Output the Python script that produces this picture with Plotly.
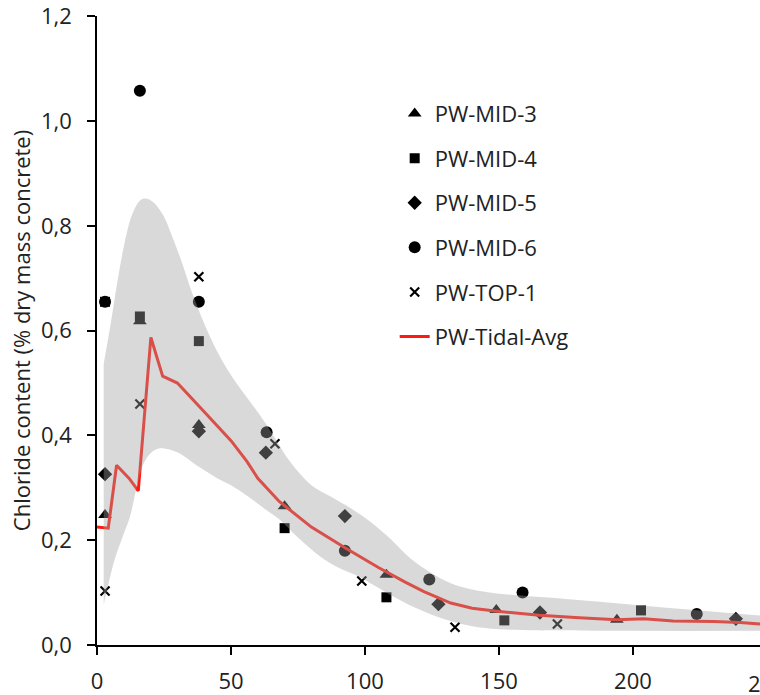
import plotly.graph_objects as go

# ---- data (depth in mm, chloride % dry mass concrete) ----
mid3_x = [3, 16, 38, 70, 108, 149, 194]
mid3_y = [0.248, 0.618, 0.42, 0.265, 0.134, 0.067, 0.048]

mid4_x = [3, 16, 38, 70, 108, 152, 203]
mid4_y = [0.655, 0.627, 0.58, 0.223, 0.091, 0.047, 0.066]

mid5_x = [3, 38, 63, 92.5, 127.4, 165.3, 238.4]
mid5_y = [0.326, 0.408, 0.367, 0.246, 0.078, 0.062, 0.05]

mid6_x = [3, 16, 38, 63.3, 92.5, 124, 158.8, 223.8]
mid6_y = [0.655, 1.058, 0.655, 0.406, 0.18, 0.125, 0.1, 0.059]

top1_x = [3, 16, 38, 66.4, 98.8, 133.6, 171.8]
top1_y = [0.103, 0.46, 0.703, 0.384, 0.122, 0.034, 0.04]

avg_x = [0, 4.2, 7.3, 12, 15.4, 20.1, 24.5, 30, 40, 50, 56, 60, 68, 80, 93, 105,
         115, 122, 132, 140, 150, 165, 180, 194, 204, 215, 230, 240, 250]
avg_y = [0.225, 0.223, 0.343, 0.318, 0.294, 0.587, 0.513, 0.5, 0.445, 0.39, 0.35,
         0.318, 0.274, 0.225, 0.184, 0.148, 0.12, 0.102, 0.08, 0.07, 0.064, 0.057,
         0.052, 0.048, 0.05, 0.046, 0.045, 0.043, 0.039]

band_up_x = [2.5, 5, 7.5, 10, 13, 16, 18, 21, 24.7, 28, 31, 36, 42, 47, 52, 57, 62,
             67, 72, 80, 87, 95, 102, 110, 117, 124, 132, 140, 150, 175, 200, 225, 250]
band_up_y = [0.537, 0.61, 0.69, 0.76, 0.82, 0.848, 0.852, 0.845, 0.82, 0.78, 0.74,
             0.665, 0.59, 0.54, 0.5, 0.465, 0.43, 0.39, 0.35, 0.305, 0.284, 0.26,
             0.235, 0.2, 0.165, 0.14, 0.118, 0.106, 0.098, 0.088, 0.077, 0.066, 0.055]

band_lo_x = [2.5, 4.2, 6.7, 9.8, 12.3, 15, 17.3, 20, 23, 27, 31, 38, 45, 50, 56, 62,
             68, 75, 83, 90, 98, 104, 110, 116, 122, 128, 134, 140, 150, 165, 200, 250]
band_lo_y = [0.077, 0.115, 0.165, 0.21, 0.245, 0.305, 0.345, 0.366, 0.375, 0.373,
             0.365, 0.34, 0.318, 0.305, 0.285, 0.262, 0.24, 0.205, 0.17, 0.148, 0.13,
             0.112, 0.094, 0.078, 0.064, 0.052, 0.043, 0.036, 0.03, 0.028, 0.027, 0.027]

x_ticks = [0, 50, 100, 150, 200]
y_ticks = [0, 0.2, 0.4, 0.6, 0.8, 1.0, 1.2]

FONT = "Open Sans"
TXT = "#222222"

fig = go.Figure()

def pts(x, y, name, symbol, size, group):
    fig.add_trace(go.Scatter(
        x=x, y=y, mode="markers", name=name, legendgroup=group,
        marker=dict(symbol=symbol, size=size, color="#000000",
                    line=dict(width=0 if "open" not in symbol else 2.2, color="#000000")),
        cliponaxis=False))

pts(mid3_x, mid3_y, "PW-MID-3", "triangle-up", 12, "g1")
pts(mid4_x, mid4_y, "PW-MID-4", "square", 10, "g2")
pts(mid5_x, mid5_y, "PW-MID-5", "diamond", 11, "g3")
pts(mid6_x, mid6_y, "PW-MID-6", "circle", 12, "g4")
pts(top1_x, top1_y, "PW-TOP-1", "x-thin-open", 9, "g5")

fig.add_trace(go.Scatter(
    x=avg_x, y=avg_y, mode="lines", name="PW-Tidal-Avg", legendgroup="g6",
    line=dict(color="#ff1a10", width=3)))

# confidence band drawn on top (semi-transparent), as in the reference
fig.add_trace(go.Scatter(
    x=band_lo_x, y=band_lo_y, mode="lines", line=dict(width=0, shape="spline"),
    showlegend=False, hoverinfo="skip"))
fig.add_trace(go.Scatter(
    x=band_up_x, y=band_up_y, mode="lines", line=dict(width=0, shape="spline"),
    fill="tonexty", fillcolor="rgba(160,160,160,0.4)",
    showlegend=False, hoverinfo="skip"))

XMAX = 247.4
fig.update_layout(
    width=760, height=695,
    margin=dict(l=97, r=0, t=13, b=48),
    paper_bgcolor="white", plot_bgcolor="white",
    separators=",.",
    font=dict(family=FONT, size=22, color=TXT),
    showlegend=True,
    legend=dict(x=0.449, y=0.878, xanchor="left", yanchor="top",
                bgcolor="rgba(0,0,0,0)", font=dict(family=FONT, size=22, color=TXT),
                tracegroupgap=13, itemsizing="trace"),
    xaxis=dict(range=[0, XMAX], tickvals=x_ticks, showgrid=False, zeroline=False,
               showline=True, linecolor="#000000", linewidth=1.5,
               ticks="outside", ticklen=8, tickwidth=1.5, tickcolor="#000000",
               ticklabelstandoff=8,
               tickfont=dict(family=FONT, size=22, color=TXT)),
    yaxis=dict(range=[0, 1.2005], tickvals=y_ticks, tickformat=".1f", showgrid=False,
               zeroline=False, showline=True, linecolor="#000000", linewidth=1.5,
               ticks="outside", ticklen=8, tickwidth=1.5, tickcolor="#000000",
               ticklabelstandoff=11, ticklabeloverflow="allow",
               tickfont=dict(family=FONT, size=22, color=TXT),
               title=dict(text="Chloride content (% dry mass concrete)",
                          font=dict(family=FONT, size=22, color=TXT), standoff=4)),
)

fig.add_annotation(x=250 / XMAX, y=0, xref="paper", yref="paper",
                   text="250", showarrow=False, xanchor="center", yanchor="top",
                   yshift=-21, font=dict(family=FONT, size=22, color=TXT))

fig.write_html("out.html",
               config={"displayModeBar": False},
               post_script="document.body.style.margin='0px';"
                           "document.body.style.overflow='hidden';")
